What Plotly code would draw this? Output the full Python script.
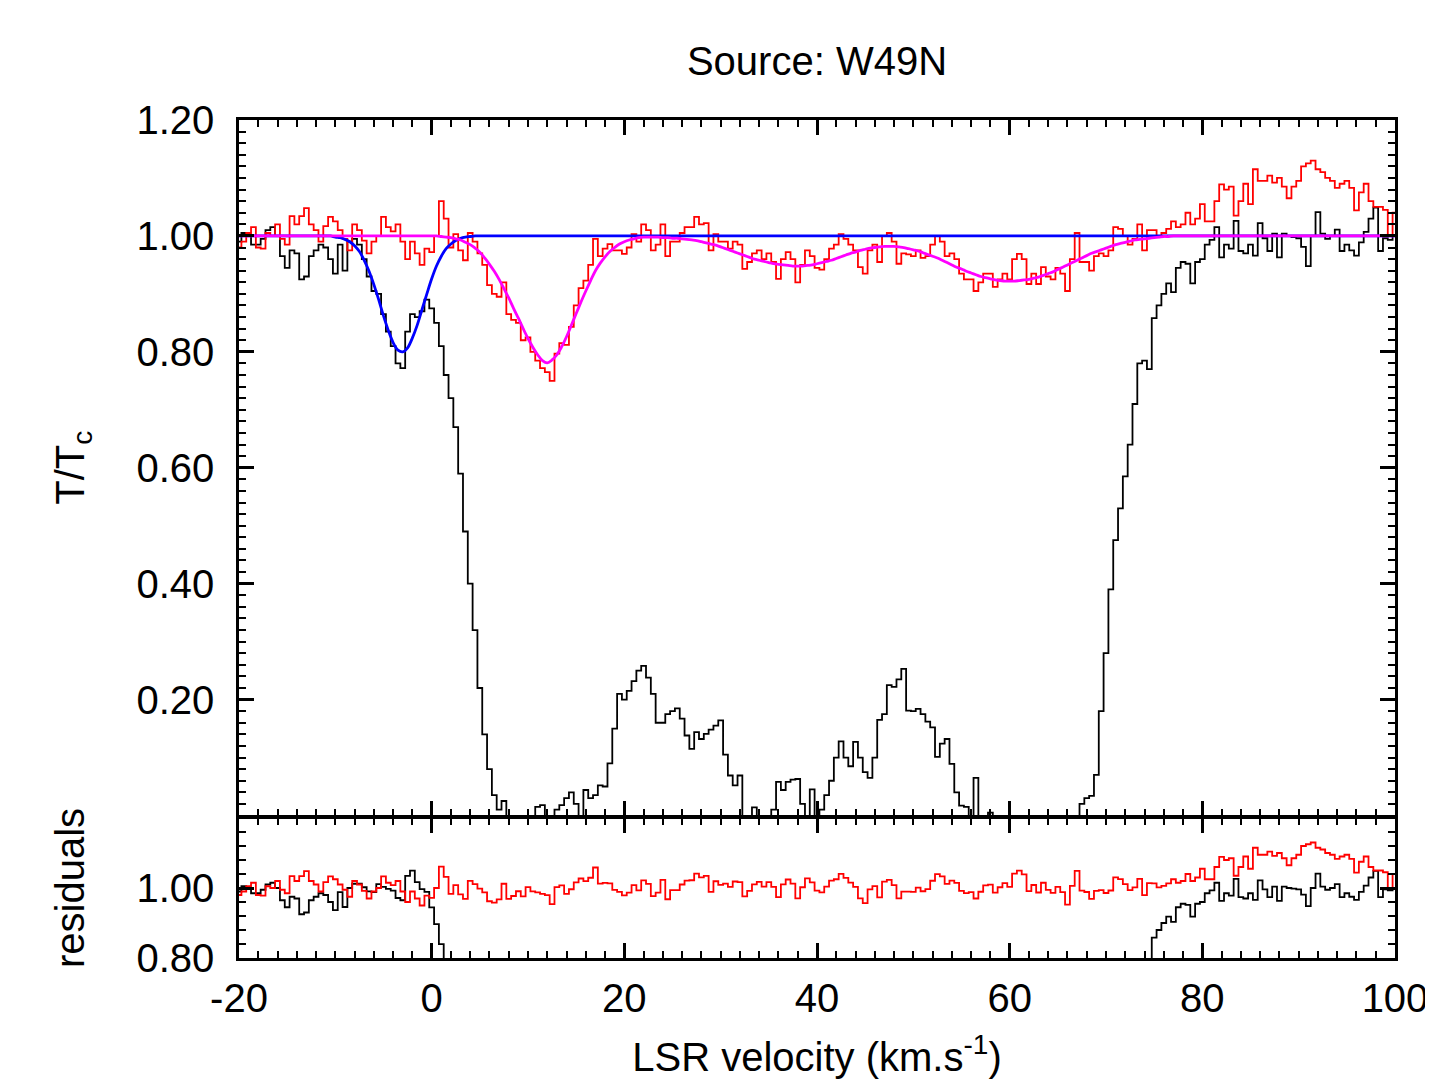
import numpy as np
import plotly.graph_objects as go

# ---------------- data ----------------
# velocity channels, km/s (0.5 km/s grid from -20 to 100)
velocity = np.round(np.arange(-20, 100.001, 0.5), 2)

# black spectrum (T/Tc), one row per 10 km/s
black_spec = [
    0.99, 1.005, 1.0, 0.985, 0.985, 0.995, 1.01, 1.015, 1.0, 0.965,
    0.945, 0.975, 0.97, 0.925, 0.93, 0.965, 0.975, 0.985, 0.98, 0.96,
    0.935, 0.985, 0.94, 0.99, 0.995, 0.985, 0.96, 0.93, 0.905, 0.9,
    0.865, 0.835, 0.81, 0.78, 0.772, 0.835, 0.865, 0.86, 0.87, 0.89,
    # 0 .. 9.5
    0.875, 0.85, 0.81, 0.76, 0.72, 0.67, 0.59, 0.49, 0.40, 0.32,
    0.22, 0.14, 0.08, 0.035, 0.01, 0.025, -0.02, -0.02, -0.02, -0.02,
    # 10 .. 19.5
    -0.02, -0.02, 0.015, 0.018, -0.02, -0.02, 0.01, 0.018, 0.03, 0.04,
    0.02, -0.01, 0.044, 0.03, 0.035, 0.052, 0.05, 0.09, 0.15, 0.21,
    # 20 .. 29.5
    0.20, 0.215, 0.232, 0.25, 0.258, 0.238, 0.21, 0.16, 0.16, 0.175,
    0.18, 0.185, 0.167, 0.138, 0.115, 0.144, 0.132, 0.141, 0.148, 0.155,
    # 30 .. 39.5
    0.164, 0.105, 0.069, 0.052, 0.069, -0.02, -0.02, 0.014, -0.02, -0.02,
    -0.02, 0.01, 0.058, 0.044, 0.058, 0.062, 0.063, 0.02, -0.02, 0.045,
    # 40 .. 49.5
    -0.01, 0.01, 0.035, 0.06, 0.10, 0.128, 0.10, 0.085, 0.127, 0.10,
    0.075, 0.065, 0.10, 0.165, 0.175, 0.225, 0.222, 0.235, 0.253, 0.181,
    # 50 .. 59.5
    0.18, 0.184, 0.175, 0.162, 0.152, 0.101, 0.124, 0.132, 0.089, 0.04,
    0.017, 0.015, -0.01, 0.065, -0.02, -0.02, 0.005, -0.02, -0.02, -0.02,
    # 60 .. 69.5
    -0.02, -0.02, -0.02, -0.02, -0.02, -0.02, -0.02, -0.02, -0.02, -0.02,
    -0.02, -0.02, -0.02, -0.02, -0.02, 0.02, 0.03, 0.034, 0.07, 0.18,
    # 70 .. 79.5
    0.28, 0.39, 0.475, 0.53, 0.585, 0.64, 0.71, 0.78, 0.785, 0.77,
    0.858, 0.88, 0.90, 0.918, 0.903, 0.945, 0.955, 0.952, 0.918, 0.955,
    # 80 .. 89.5
    0.96, 0.985, 0.993, 1.015, 0.963, 0.985, 0.978, 1.026, 0.974, 0.97,
    0.985, 0.966, 1.022, 0.996, 0.974, 1.004, 0.963, 1.004, 1.0, 0.998,
    # 90 .. 100
    0.996, 0.981, 0.948, 1.0, 1.041, 1.004, 0.995, 1.0, 1.011, 0.974,
    0.985, 0.975, 0.966, 0.989, 1.007, 1.03, 1.049, 0.974, 0.996, 0.993,
    1.0,
]

# red spectrum (T/Tc)
red_spec = [
    0.98, 0.99, 1.005, 1.015, 0.98, 0.978, 1.005, 1.0, 1.02, 0.995,
    0.985, 1.034, 1.02, 1.034, 1.048, 1.02, 1.01, 0.99, 1.017, 1.033,
    1.025, 1.01, 0.995, 0.975, 1.02, 1.01, 0.992, 0.97, 0.99, 1.0,
    1.033, 1.015, 1.008, 1.02, 0.99, 0.96, 0.99, 0.97, 0.95, 0.978,
    # 0 .. 9.5
    0.972, 1.0, 1.06, 1.03, 0.98, 1.003, 0.975, 0.958, 1.005, 0.99,
    0.97, 0.95, 0.915, 0.90, 0.895, 0.92, 0.865, 0.855, 0.85, 0.82,
    # 10 .. 19.5
    0.825, 0.80, 0.785, 0.772, 0.765, 0.75, 0.797, 0.815, 0.812, 0.843,
    0.88, 0.91, 0.923, 0.95, 0.995, 0.965, 0.978, 0.986, 0.975, 0.975,
    # 20 .. 29.5
    0.969, 0.98, 1.003, 0.99, 1.02, 1.01, 0.975, 0.985, 1.02, 0.965,
    0.99, 0.99, 1.005, 1.015, 1.015, 1.033, 1.02, 1.022, 0.975, 1.003,
    # 30 .. 39.5
    0.99, 0.99, 0.978, 0.99, 0.985, 0.943, 0.955, 0.97, 0.975, 0.96,
    0.97, 0.955, 0.926, 0.96, 0.972, 0.96, 0.92, 0.95, 0.975, 0.965,
    # 40 .. 49.5
    0.945, 0.942, 0.96, 0.978, 0.985, 1.003, 0.995, 0.985, 0.975, 0.946,
    0.935, 0.975, 0.985, 0.955, 1.0, 1.005, 0.99, 0.952, 0.97, 0.968,
    # 50 .. 59.5
    0.965, 0.975, 0.962, 0.965, 0.985, 1.0, 0.99, 0.965, 0.97, 0.96,
    0.935, 0.925, 0.925, 0.905, 0.92, 0.935, 0.935, 0.912, 0.925, 0.935,
    # 60 .. 69.5
    0.925, 0.96, 0.969, 0.96, 0.917, 0.935, 0.917, 0.946, 0.93, 0.925,
    0.945, 0.935, 0.905, 0.96, 1.005, 0.955, 0.955, 0.94, 0.965, 0.97,
    # 70 .. 79.5
    0.965, 0.975, 1.015, 1.012, 1.0, 0.985, 0.995, 1.02, 0.975, 1.01,
    1.01, 1.0, 1.005, 1.012, 1.025, 1.015, 1.02, 1.04, 1.02, 1.03,
    # 80 .. 89.5
    1.055, 1.025, 1.025, 1.06, 1.089, 1.08, 1.085, 1.035, 1.06, 1.09,
    1.055, 1.115, 1.095, 1.095, 1.104, 1.092, 1.10, 1.085, 1.065, 1.085,
    # 90 .. 100
    1.095, 1.12, 1.125, 1.13, 1.115, 1.11, 1.10, 1.095, 1.083, 1.09,
    1.095, 1.083, 1.044, 1.075, 1.09, 1.06, 1.05, 1.05, 1.045, 1.0,
    1.04,
]

# blue Gaussian fit (black spectrum): -20..-10.5 flat, -10..4 dip, 4.5..100 flat
blue_fit = ([1.0] * 20 + [
    0.998, 0.997, 0.994, 0.990, 0.983, 0.973, 0.958, 0.939, 0.916, 0.890,
    0.862, 0.837, 0.816, 0.803, 0.800, 0.807, 0.824, 0.846, 0.873, 0.900,
    0.926, 0.948, 0.965, 0.978, 0.986, 0.992, 0.996, 0.998, 0.999,
] + [1.0] * 192)

# magenta Gaussian fit (red spectrum): -20..0.5 flat, 1..76.5 dips, 77..100 flat
magenta_fit = ([1.0] * 42 + [
    0.999, 0.998, 0.997, 0.995, 0.993, 0.989, 0.985, 0.979, 0.972, 0.962,
    0.951, 0.939, 0.925, 0.909, 0.893, 0.875, 0.858, 0.840, 0.823, 0.808,
    0.795, 0.785, 0.781, 0.786, 0.795, 0.809, 0.826, 0.846, 0.866, 0.886,
    0.905, 0.923, 0.940, 0.953, 0.964, 0.973, 0.980, 0.986, 0.990, 0.993,
    0.995, 0.997, 0.998, 0.998, 0.998, 0.998, 0.997, 0.997, 0.996, 0.996,
    0.995, 0.994, 0.993, 0.992, 0.990, 0.988, 0.986, 0.984, 0.981, 0.978,
    0.975, 0.972, 0.969, 0.966, 0.963, 0.960, 0.958, 0.956, 0.954, 0.952,
    0.951, 0.950, 0.949, 0.948, 0.948, 0.948, 0.949, 0.950, 0.952, 0.954,
    0.956, 0.958, 0.961, 0.964, 0.967, 0.970, 0.972, 0.975, 0.977, 0.979,
    0.980, 0.981, 0.982, 0.982, 0.982, 0.981, 0.980, 0.978, 0.976, 0.974,
    0.971, 0.968, 0.965, 0.962, 0.958, 0.954, 0.950, 0.946, 0.943, 0.939,
    0.936, 0.933, 0.930, 0.928, 0.926, 0.924, 0.923, 0.922, 0.922, 0.922,
    0.923, 0.924, 0.925, 0.927, 0.929, 0.932, 0.935, 0.938, 0.942, 0.946,
    0.950, 0.954, 0.958, 0.962, 0.966, 0.970, 0.973, 0.976, 0.979, 0.982,
    0.985, 0.987, 0.989, 0.991, 0.993, 0.994, 0.995, 0.996, 0.997, 0.998,
    0.999, 0.999,
] + [1.0] * 47)

x_ticks = [-20, 0, 20, 40, 60, 80, 100]
x_ticklabels = ["-20", "0", "20", "40", "60", "80", "100"]
y_ticks_top = [0.2, 0.4, 0.6, 0.8, 1.0, 1.2]
y_ticklabels_top = ["0.20", "0.40", "0.60", "0.80", "1.00", "1.20"]
y_ticks_res = [0.8, 1.0]
y_ticklabels_res = ["0.80", "1.00"]

n = len(velocity)
for name, arr in [("black", black_spec), ("red", red_spec),
                  ("blue", blue_fit), ("magenta", magenta_fit)]:
    assert len(arr) == n, (name, len(arr), n)

black_arr = np.array(black_spec)
red_arr = np.array(red_spec)
blue_arr = np.array(blue_fit)
mag_arr = np.array(magenta_fit)

# residuals = observed / model
black_res = black_arr / blue_arr
red_res = red_arr / mag_arr

# ---------------- figure ----------------
FONT = "Liberation Sans, Arial, Helvetica, sans-serif"
FS = 40

W, H = 1433, 1082
ML, MT = 231, 112
PW, PH = 1156, 838
MR = W - ML - PW
MB = H - MT - PH
LW = 2.5
res_top = 140 / PH            # top edge of residual panel domain
main_bot = res_top + LW / PH  # main panel starts one line-width higher

fig = go.Figure()

def add(x, y, color, width, shape, xa, ya):
    fig.add_trace(go.Scatter(x=x, y=y, mode="lines", xaxis=xa, yaxis=ya,
                             line=dict(color=color, width=width, shape=shape),
                             hoverinfo="skip", showlegend=False))

add(velocity, black_arr, "black", 1.8, "hvh", "x", "y")
add(velocity, red_arr, "#ff0000", 1.8, "hvh", "x", "y")
add(velocity, blue_arr, "#0000ff", 2.8, "spline", "x", "y")
add(velocity, mag_arr, "#ff00ff", 2.8, "spline", "x", "y")

add(velocity, black_res, "black", 1.8, "hvh", "x2", "y2")
add(velocity, red_res, "#ff0000", 1.8, "hvh", "x2", "y2")

common_x = dict(range=[-20, 100], showgrid=False, zeroline=False,
                showline=True, linecolor="black", linewidth=LW,
                mirror="allticks", ticks="inside", ticklen=15, tickwidth=2.5,
                tickcolor="black", tickmode="array", tickvals=x_ticks,
                minor=dict(tickmode="array",
                           tickvals=list(np.arange(-20, 101, 2)),
                           ticks="inside", ticklen=7, tickwidth=2,
                           tickcolor="black"))

fig.update_layout(
    width=W, height=H,
    margin=dict(l=ML, r=MR, t=MT, b=MB),
    paper_bgcolor="white", plot_bgcolor="white",
    font=dict(family=FONT, size=FS, color="black"),
    showlegend=False, hovermode=False,
    title=dict(text="Source: W49N", x=0.5, xref="paper", xanchor="center",
               y=1 - 53 / H, yref="container", yanchor="middle",
               font=dict(family=FONT, size=FS, color="black")),
    xaxis=dict(common_x, domain=[0, 1], anchor="y", showticklabels=False),
    yaxis=dict(domain=[main_bot, 1], anchor="x", range=[0, 1.2],
               showgrid=False, zeroline=False, showline=True,
               linecolor="black", linewidth=LW, mirror="allticks",
               ticks="inside", ticklen=15, tickwidth=2.5, tickcolor="black",
               tickmode="array", tickvals=y_ticks_top,
               ticktext=y_ticklabels_top, ticklabelstandoff=14,
               tickfont=dict(size=FS),
               minor=dict(tickmode="array",
                          tickvals=list(np.round(np.arange(0, 1.2001, 0.02), 3)),
                          ticks="inside", ticklen=7, tickwidth=2,
                          tickcolor="black"),
               title=dict(text="T/T<sub>c</sub>", standoff=40,
                          font=dict(size=FS))),
    xaxis2=dict(common_x, domain=[0, 1], anchor="y2", showticklabels=True,
                ticktext=x_ticklabels, ticklabelstandoff=3,
                tickfont=dict(size=FS),
                title=dict(text="LSR velocity (km.s<sup>-1</sup>)",
                           standoff=25, font=dict(size=FS))),
    yaxis2=dict(domain=[0, res_top], anchor="x2", range=[0.8, 1.2],
                showgrid=False, zeroline=False, showline=True,
                linecolor="black", linewidth=LW, mirror="allticks",
                ticks="inside", ticklen=15, tickwidth=2.5, tickcolor="black",
                tickmode="array", tickvals=y_ticks_res,
                ticktext=y_ticklabels_res, ticklabelstandoff=14,
                tickfont=dict(size=FS),
                minor=dict(tickmode="array",
                           tickvals=list(np.round(np.arange(0.8, 1.2001, 0.04), 3)),
                           ticks="inside", ticklen=7, tickwidth=2,
                           tickcolor="black"),
                title=dict(text="residuals", standoff=40,
                           font=dict(size=FS))),
)

fig.write_html("out.html")
